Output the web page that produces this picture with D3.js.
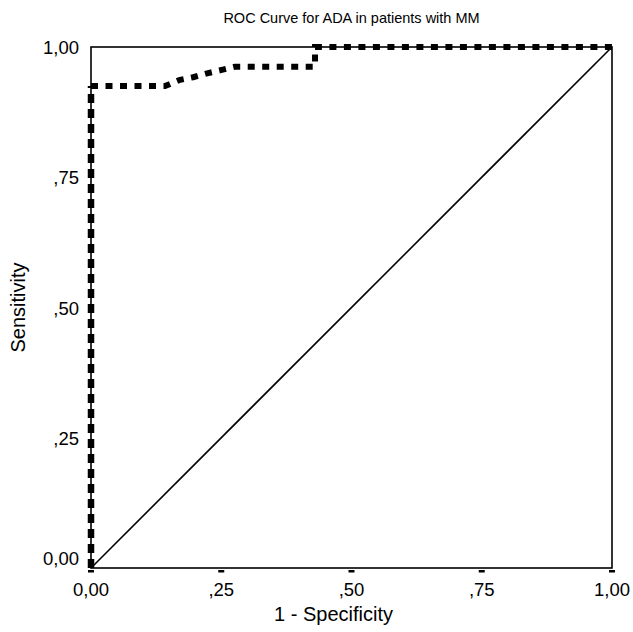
<!DOCTYPE html>
<html><head><meta charset="utf-8">
<script src="https://cdn.jsdelivr.net/npm/d3@7/dist/d3.min.js"></script>
<style>body{margin:0;background:#fff}svg{display:block}text{font-family:"Liberation Sans",Arial,sans-serif;fill:#000}</style>
</head><body><svg id="c" width="633" height="632"></svg>
<script>
const title = "ROC Curve for ADA in patients with MM";
const xLabel = "1 - Specificity";
const yLabel = "Sensitivity";
const tickValues = [0, 0.25, 0.5, 0.75, 1];
const tickLabels = ["0,00", ",25", ",50", ",75", "1,00"];
// ROC curve points: 1 - specificity, sensitivity
const rocFpr  = [0, 0, 0.142, 0.171, 0.196, 0.225, 0.251, 0.276, 0.43, 0.43, 1];
const rocTpr  = [0, 0.925, 0.925, 0.937, 0.942, 0.950, 0.956, 0.962, 0.962, 1, 1];
const refLine = [[0,0],[1,1]];

const svg = d3.select("#c");
const m = {l:91, r:612, t:47, b:568};
const x = d3.scaleLinear().domain([0,1]).range([m.l, m.r]);
const y = d3.scaleLinear().domain([0,1]).range([m.b, m.t]);

svg.append("text").attr("x", (m.l+m.r)/2).attr("y", 23).attr("text-anchor","middle")
  .style("font-size","14.5px").text(title);

// frame
svg.append("rect").attr("x", x(0)).attr("y", y(1)).attr("width", x(1)-x(0)).attr("height", y(0)-y(1))
  .attr("fill","none").attr("stroke","#000").attr("stroke-width",1.6);

// diagonal reference
svg.append("path").attr("d", d3.line().x(d=>x(d[0])).y(d=>y(d[1]))(refLine))
  .attr("stroke","#000").attr("stroke-width",1.6).attr("fill","none");

// x ticks
svg.selectAll(".xt").data(tickValues).enter().append("rect")
  .attr("x", d=>x(d)-3).attr("y", m.b+2).attr("width",6).attr("height",2.5).attr("fill","#000");
svg.selectAll(".xl").data(tickValues).enter().append("text")
  .attr("x", d=>x(d)).attr("y", m.b+28).attr("text-anchor","middle")
  .style("font-size","18.5px").text((d,i)=>tickLabels[i]);
// y tick labels
svg.selectAll(".yl").data(tickValues).enter().append("text")
  .attr("x", 79).attr("y", d=> d===0 ? y(d)-10+7 : y(d)+7).attr("text-anchor","end")
  .style("font-size","18.5px").text((d,i)=>tickLabels[i]);

svg.append("text").attr("x", (m.l+m.r)/2 - 18).attr("y", 621).attr("text-anchor","middle")
  .style("font-size","20px").text(xLabel);
svg.append("text").attr("transform", `translate(25,${(m.t+m.b)/2}) rotate(-90)`).attr("text-anchor","middle")
  .style("font-size","20px").text(yLabel);

const pts = rocFpr.map((f,i)=>[f, rocTpr[i]]);
const line = d3.line().x(d=>x(d[0])).y(d=>y(d[1]));
// vertical leading segment
svg.append("path").attr("d", line(pts.slice(0,2))).attr("fill","none")
  .attr("stroke","#000").attr("stroke-width",6.5).attr("stroke-dasharray","9,6");
// remaining curve
svg.append("path").attr("d", line(pts.slice(1))).attr("fill","none")
  .attr("stroke","#000").attr("stroke-width",6).attr("stroke-dasharray","7,7.5");
</script></body></html>
